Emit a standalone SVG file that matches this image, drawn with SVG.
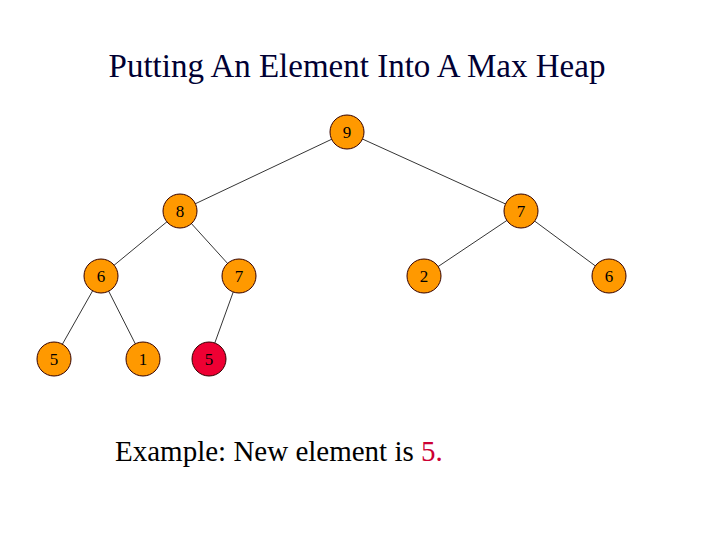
<svg xmlns="http://www.w3.org/2000/svg" width="720" height="540" viewBox="0 0 720 540">
<style>
.n{fill:#ff9900;stroke:#330000;stroke-width:1}
.r{fill:#ee0033;stroke:#330000;stroke-width:1}
.t{font-family:"Liberation Serif",serif;font-size:17px;text-anchor:middle;fill:#000}
.c line{stroke:#000;stroke-width:0.8}
</style>
<rect width="720" height="540" fill="#fff"/>
<text x="357" y="77" font-family="Liberation Serif,serif" font-size="33" text-anchor="middle" fill="#000033">Putting An Element Into A Max Heap</text>
<g class="c" id="connectors">
<line x1="347" y1="132" x2="180" y2="211"/>
<line x1="347" y1="132" x2="521" y2="211"/>
<line x1="180" y1="211" x2="101" y2="276"/>
<line x1="180" y1="211" x2="239" y2="276"/>
<line x1="521" y1="211" x2="424" y2="276"/>
<line x1="521" y1="211" x2="609" y2="276"/>
<line x1="101" y1="276" x2="54" y2="359"/>
<line x1="101" y1="276" x2="143" y2="359"/>
<line x1="239" y1="276" x2="209" y2="359"/>
</g>
<g id="n9"><circle class="n" cx="347" cy="132" r="17"/><text class="t" x="347" y="138">9</text></g>
<g id="n8"><circle class="n" cx="180" cy="211" r="17"/><text class="t" x="180" y="217">8</text></g>
<g id="n7a"><circle class="n" cx="521" cy="211" r="17"/><text class="t" x="521" y="217">7</text></g>
<g id="n6a"><circle class="n" cx="101" cy="276" r="17"/><text class="t" x="101" y="282">6</text></g>
<g id="n7b"><circle class="n" cx="239" cy="276" r="17"/><text class="t" x="239" y="282">7</text></g>
<g id="n2"><circle class="n" cx="424" cy="276" r="17"/><text class="t" x="424" y="282">2</text></g>
<g id="n6b"><circle class="n" cx="609" cy="276" r="17"/><text class="t" x="609" y="282">6</text></g>
<g id="n5a"><circle class="n" cx="54" cy="359" r="17"/><text class="t" x="54" y="365">5</text></g>
<g id="n1"><circle class="n" cx="143" cy="359" r="17"/><text class="t" x="143" y="365">1</text></g>
<g id="n5b"><circle class="r" cx="209" cy="359" r="17"/><text class="t" x="209" y="365">5</text></g>
<text x="115" y="461" font-family="Liberation Serif,serif" font-size="29" fill="#000">Example: New element is <tspan fill="#cc0033">5.</tspan></text>
</svg>
